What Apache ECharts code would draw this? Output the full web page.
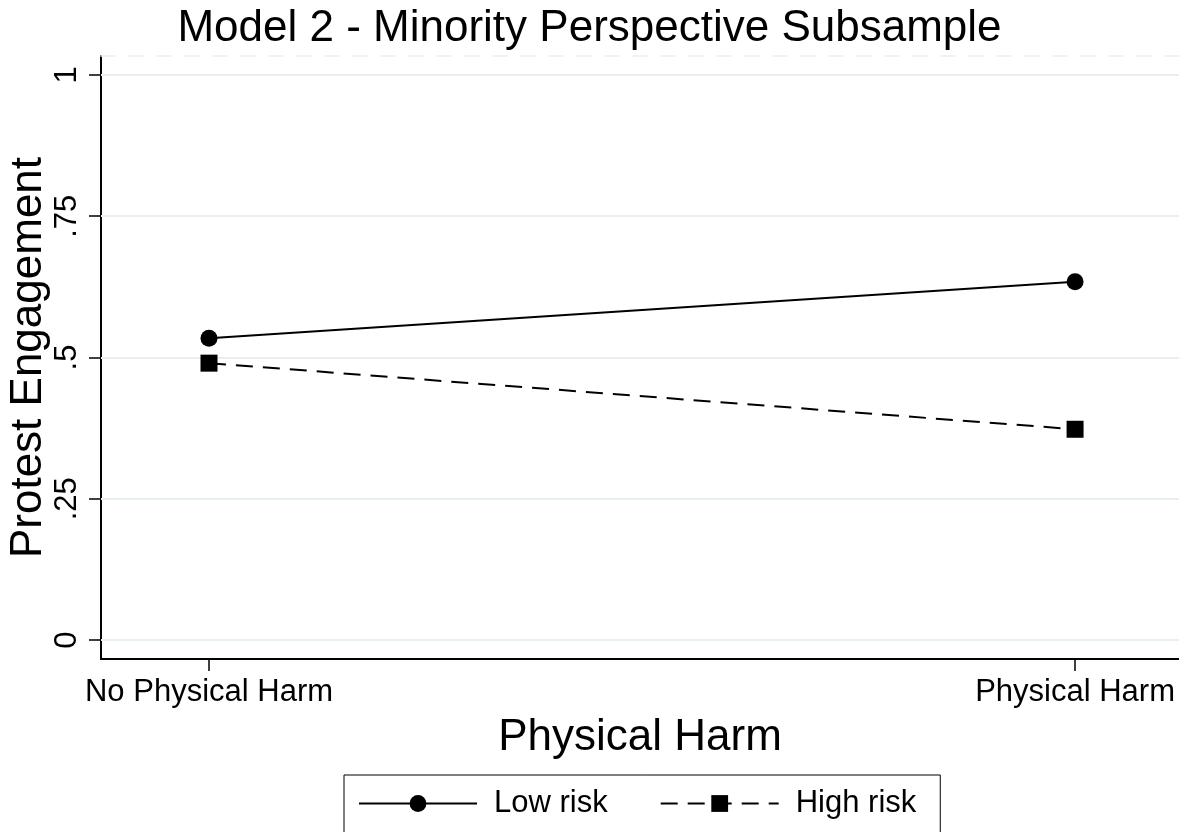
<!DOCTYPE html>
<html>
<head>
<meta charset="utf-8">
<script src="https://cdn.jsdelivr.net/npm/echarts@6/dist/echarts.min.js"></script>
<style>html,body{margin:0;padding:0;background:#fff}#c{width:1179px;height:832px}</style>
</head>
<body>
<div id="c"></div>
<script>
var categories = ['No Physical Harm', 'Physical Harm'];
var lowRisk = [0.534, 0.634];
var highRisk = [0.490, 0.373];
var yTicks = [0, 0.25, 0.5, 0.75, 1];
var yTickLabels = ['0', '.25', '.5', '.75', '1'];
var seriesNames = ['Low risk', 'High risk'];

var FONT = 'Liberation Sans';
var chart = echarts.init(document.getElementById('c'));
function pts(vals){ return vals.map(function(v,i){ return [i, v]; }); }
var option = {
  animation: false,
  backgroundColor: '#fff',
  textStyle: { fontFamily: FONT, color: '#000' },
  title: {
    text: 'Model 2 - Minority Perspective Subsample',
    left: 'center', top: 2,
    textStyle: { fontFamily: FONT, fontSize: 44, fontWeight: 'normal', color: '#000' }
  },
  grid: { left: 101, right: 0, top: 56, bottom: 173, containLabel: false, outerBoundsMode: 'none' },
  xAxis: [{
    type: 'value', min: -0.1247, max: 1.12,
    name: 'Physical Harm', nameLocation: 'middle', nameGap: 57, nameMoveOverlap: false,
    nameTextStyle: { fontFamily: FONT, fontSize: 44, color: '#000' },
    axisLine: { show: true, onZero: false, lineStyle: { color: '#000', width: 2 } },
    axisTick: { show: true, length: 12, customValues: [0, 1], lineStyle: { color: '#000', width: 1.5 } },
    axisLabel: { customValues: [0, 1], margin: 18, fontFamily: FONT, fontSize: 31, color: '#000',
      formatter: function(v){ return categories[Math.round(v)]; } },
    splitLine: { show: false }
  }, {
    type: 'value', position: 'top', min: -0.1247, max: 1.12,
    axisLine: { show: true, onZero: false, lineStyle: { color: '#e8eef0', width: 1.5, type: [14, 14] } },
    axisTick: { show: false }, axisLabel: { show: false }, splitLine: { show: false }
  }],
  yAxis: {
    type: 'value', min: -0.0336, max: 1.0336,
    name: 'Protest Engagement', nameLocation: 'middle', nameGap: 50, nameMoveOverlap: false,
    nameTextStyle: { fontFamily: FONT, fontSize: 44, color: '#000' },
    axisLine: { show: true, onZero: false, lineStyle: { color: '#000', width: 2 } },
    axisTick: { show: true, length: 12, customValues: yTicks, lineStyle: { color: '#000', width: 1.5 } },
    axisLabel: { customValues: yTicks, rotate: 90, margin: 18, fontFamily: FONT, fontSize: 31, color: '#000',
      formatter: function(v){ var i = yTicks.indexOf(v); return i >= 0 ? yTickLabels[i] : ''; } },
    splitLine: { show: false }
  },
  legend: {
    left: 344, top: 775,
    data: seriesNames,
    borderColor: '#000', borderWidth: 1, borderRadius: 0,
    padding: [13, 24, 16, 14],
    itemWidth: 118, itemHeight: 21, itemGap: 52,
    textStyle: { fontFamily: FONT, fontSize: 31, color: '#000', padding: [0, 0, 0, 12] },
    selectedMode: false
  },
  series: [{
    name: seriesNames[0], type: 'line', data: pts(lowRisk),
    symbol: 'circle', symbolSize: 17,
    lineStyle: { color: '#000', width: 2, type: 'solid' },
    itemStyle: { color: '#000' },
    markLine: {
      silent: true, symbol: 'none', label: { show: false }, z: 1,
      lineStyle: { color: '#e8eff1', width: 2, type: 'solid' },
      data: yTicks.map(function(t){ return { yAxis: t }; })
    },
    z: 5
  }, {
    name: seriesNames[1], type: 'line', data: pts(highRisk),
    symbol: 'rect', symbolSize: 17,
    lineStyle: { color: '#000', width: 2, type: [17, 10] },
    itemStyle: { color: '#000' },
    z: 5
  }]
};
chart.setOption(option);
</script>
</body>
</html>
